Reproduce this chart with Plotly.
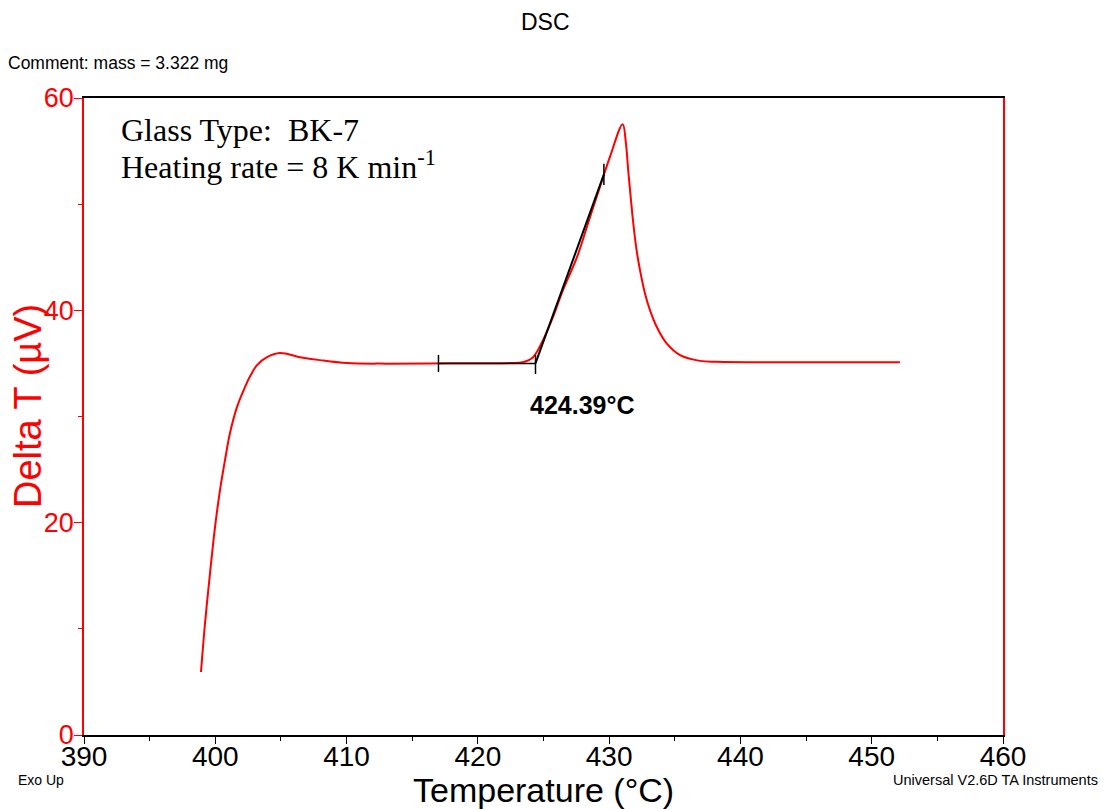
import plotly.graph_objects as go

# DSC curve (Temperature °C, Delta T µV)
temperature = [398.91, 399.22, 399.60, 399.98, 400.36, 400.74, 401.12, 401.65, 402.26,
               402.70, 403.18, 403.94, 404.93, 406.45, 407.97, 410.03, 413.0, 416.35,
               420.0, 422.44, 423.43, 424.20, 424.96, 425.72, 426.48, 427.55, 428.54,
               429.30, 430.06, 431.03, 431.28, 431.45, 431.64, 431.84, 432.09, 432.35,
               432.73, 433.11, 433.62, 434.38, 435.40, 436.92, 438.19, 445.0, 452.15]
delta_t = [5.93, 10.55, 15.25, 19.59, 23.07, 25.89, 28.44, 30.88, 32.77,
           33.90, 34.84, 35.59, 35.97, 35.59, 35.31, 35.03, 34.98, 35.00,
           35.02, 35.03, 35.12, 35.59, 37.19, 39.36, 41.90, 45.01, 48.78,
           51.63, 54.45, 57.53, 55.71, 53.20, 50.69, 48.18, 45.67, 43.79,
           41.59, 40.02, 38.45, 36.88, 35.78, 35.24, 35.15, 35.10, 35.12]

# Onset construction (baseline + tangent)
baseline_x = [417.0, 424.39]
baseline_y = [35.0, 35.0]
tangent_x = [424.39, 429.6]
tangent_y = [35.0, 52.8]
onset_label = "424.39°C"

x_ticks = [390, 400, 410, 420, 430, 440, 450, 460]
y_ticks = [0, 20, 40, 60]

fig = go.Figure()
fig.add_trace(go.Scatter(x=temperature, y=delta_t, mode="lines",
                         line=dict(color="#ff0000", width=2, shape="spline", smoothing=1.0),
                         hoverinfo="skip", showlegend=False))
fig.add_trace(go.Scatter(x=baseline_x, y=baseline_y, mode="lines",
                         line=dict(color="black", width=1.5), showlegend=False))
fig.add_trace(go.Scatter(x=tangent_x, y=tangent_y, mode="lines",
                         line=dict(color="black", width=2), showlegend=False))
# small vertical tick marks on construction lines
for tx, ty0, ty1 in [(baseline_x[0], 34.2, 35.8), (tangent_x[0], 34.0, 35.8),
                     (tangent_x[1], 51.8, 53.8)]:
    fig.add_trace(go.Scatter(x=[tx, tx], y=[ty0, ty1], mode="lines",
                             line=dict(color="black", width=1.5), showlegend=False))

fig.update_layout(
    width=1104, height=809,
    margin=dict(l=84, r=101, t=98, b=74),
    paper_bgcolor="white", plot_bgcolor="white",
    font=dict(family="Liberation Sans, Arial", color="black"),
    showlegend=False,
)
fig.update_xaxes(range=[390, 460], tickvals=x_ticks, showgrid=False, zeroline=False,
                 showline=True, linecolor="black", linewidth=1.5, mirror=True,
                 ticks="outside", ticklen=7, tickcolor="black", tickwidth=1,
                 tickfont=dict(size=28, color="black"), ticklabelstandoff=-11,
                 minor=dict(dtick=5, ticks="outside", ticklen=4, tickcolor="black"))
fig.update_yaxes(range=[0, 60], tickvals=y_ticks, showgrid=False, zeroline=False,
                 showline=True, linecolor="#ff0000", linewidth=1.5, mirror=True,
                 ticks="outside", ticklen=8, tickcolor="#ff0000", tickwidth=1,
                 tickfont=dict(size=27, color="#ff0000"), ticklabelstandoff=-5,
                 minor=dict(dtick=10, ticks="outside", ticklen=4, tickcolor="#ff0000"))

ann = [
    dict(text="DSC", x=545, y=22, font=dict(size=23)),
    dict(text="Comment: mass = 3.322 mg", x=6, y=63, xanchor="left", font=dict(size=17.5)),
    dict(text="Temperature (°C)", x=543, y=790, font=dict(size=34)),
    dict(text="Delta T (µV)", x=28, y=406, textangle=-90, font=dict(size=38, color="#ff0000")),
    dict(text="Exo Up", x=16, y=780, xanchor="left", font=dict(size=14)),
    dict(text="Universal V2.6D TA Instruments", x=1100, y=780, xanchor="right", font=dict(size=14.5)),
    dict(text="Glass Type:  BK-7", x=119, y=130, xanchor="left",
         font=dict(size=32, family="Liberation Serif, Times New Roman")),
    dict(text="Heating rate = 8 K min<sup>-1</sup>", x=119, y=165, xanchor="left",
         font=dict(size=32, family="Liberation Serif, Times New Roman")),
]
for a in ann:
    fig.add_annotation(xref="paper", yref="paper", x=(a["x"] - 84) / 919,
                       y=1 - (a["y"] - 98) / 637, text=a["text"], showarrow=False,
                       xanchor=a.get("xanchor", "center"), yanchor="middle",
                       textangle=a.get("textangle", 0), font=a["font"])

fig.add_annotation(x=428.0, y=31.1, xref="x", yref="y", text="<b>" + onset_label + "</b>",
                   showarrow=False, font=dict(size=25, color="black"))

fig.write_html("out.html")
